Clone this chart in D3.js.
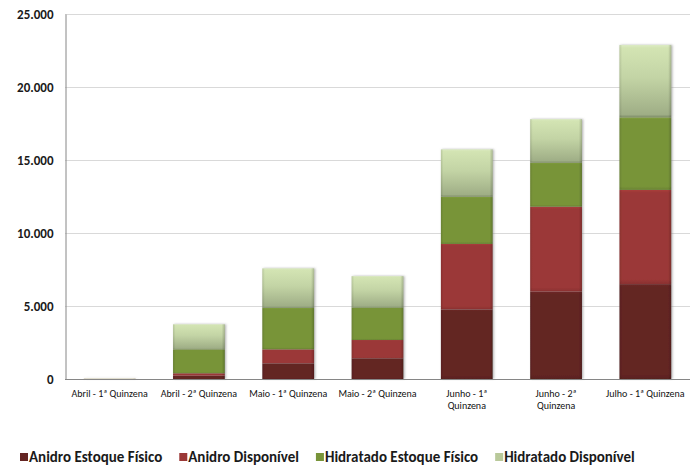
<!DOCTYPE html>
<html>
<head>
<meta charset="utf-8">
<script src="https://cdn.jsdelivr.net/npm/d3@7"></script>
<style>
  html, body { margin: 0; padding: 0; background: #fff; }
  svg { display: block; font-family: Calibri, Carlito, Lato, "Liberation Sans", sans-serif; }
</style>
</head>
<body>
<svg id="chart" width="697" height="468"></svg>
<script>
// Categories (x axis)
const categories = [
  "Abril - 1ª Quinzena",
  "Abril - 2ª Quinzena",
  "Maio - 1ª Quinzena",
  "Maio - 2ª Quinzena",
  "Junho - 1ª\nQuinzena",
  "Junho - 2ª\nQuinzena",
  "Julho - 1ª Quinzena"
];

// Stacked series, bottom to top
const seriesNames = [
  "Anidro Estoque Físico",
  "Anidro Disponível",
  "Hidratado Estoque Físico",
  "Hidratado Disponível"
];
const anidroEstoque     = [5, 230, 1070, 1420, 4770, 5980, 6500];
const anidroDisponivel  = [5, 160, 960, 1250, 4480, 5820, 6450];
const hidratadoEstoque  = [5, 1640, 2850, 2230, 3240, 3020, 4970];
const hidratadoDisponivel = [15, 1720, 2700, 2150, 3240, 2980, 4960];

const yTicks = [0, 5000, 10000, 15000, 20000, 25000];

const colors = ["#642523", "#9b3837", "#789439", "#c9dba8"];

const rows = categories.map((c, i) => ({
  cat: c,
  [seriesNames[0]]: anidroEstoque[i],
  [seriesNames[1]]: anidroDisponivel[i],
  [seriesNames[2]]: hidratadoEstoque[i],
  [seriesNames[3]]: hidratadoDisponivel[i]
}));

const svg = d3.select("#chart");
const plot = { left: 65, right: 690, top: 14, bottom: 379 };

const x = d3.scaleBand()
  .domain(categories)
  .range([plot.left, plot.right])
  .paddingInner(0.42)
  .paddingOuter(0.21);

const y = d3.scaleLinear()
  .domain([0, 25000])
  .range([plot.bottom, plot.top]);

const locale = d3.formatLocale({ decimal: ",", thousands: ".", grouping: [3], currency: ["R$", ""] });
const fmt = locale.format(",d");

// Gradients giving each segment a soft bevel look
const defs = svg.append("defs");
colors.forEach((c, i) => {
  const g = defs.append("linearGradient")
    .attr("id", "grad" + i).attr("x1", 0).attr("y1", 0).attr("x2", 0).attr("y2", 1);
  if (i === 3) {
    g.append("stop").attr("offset", "0%").attr("stop-color", "#dcebc4");
    g.append("stop").attr("offset", "4%").attr("stop-color", "#d3e4b3");
    g.append("stop").attr("offset", "45%").attr("stop-color", "#c3d4a5");
    g.append("stop").attr("offset", "96%").attr("stop-color", "#9fae86");
    g.append("stop").attr("offset", "100%").attr("stop-color", "#7e8c68");
  } else {
    const base = d3.color(c);
    g.append("stop").attr("offset", "0%").attr("stop-color", base.brighter(0.25));
    g.append("stop").attr("offset", "3%").attr("stop-color", base);
    g.append("stop").attr("offset", "95%").attr("stop-color", base);
    g.append("stop").attr("offset", "100%").attr("stop-color", base.darker(0.35));
  }
});
const edge = defs.append("linearGradient").attr("id", "edge")
  .attr("x1", 0).attr("y1", 0).attr("x2", 1).attr("y2", 0);
edge.append("stop").attr("offset", "0%").attr("stop-color", "#000").attr("stop-opacity", 0.12);
edge.append("stop").attr("offset", "5%").attr("stop-color", "#000").attr("stop-opacity", 0);
edge.append("stop").attr("offset", "94%").attr("stop-color", "#000").attr("stop-opacity", 0);
edge.append("stop").attr("offset", "100%").attr("stop-color", "#000").attr("stop-opacity", 0.2);

const shadow = defs.append("filter").attr("id", "shadow")
  .attr("x", "-20%").attr("y", "-5%").attr("width", "140%").attr("height", "110%");
shadow.append("feDropShadow").attr("dx", 1.2).attr("dy", 0).attr("stdDeviation", 0.8)
  .attr("flood-color", "#808080").attr("flood-opacity", 0.6);

// Gridlines
svg.append("g").selectAll("line")
  .data(yTicks.filter(d => d > 0))
  .join("line")
  .attr("x1", plot.left).attr("x2", plot.right)
  .attr("y1", d => y(d) + 0.5).attr("y2", d => y(d) + 0.5)
  .attr("stroke", "#d9d9d9").attr("stroke-width", 1);

// Y axis
const yAxis = svg.append("g")
  .attr("transform", `translate(${plot.left + 0.5},0)`)
  .call(d3.axisLeft(y).tickValues(yTicks).tickFormat(fmt).tickSize(0).tickPadding(12));
yAxis.select(".domain").attr("stroke", "#868686");
yAxis.selectAll("text")
  .attr("font-size", 13).attr("font-weight", "bold").attr("fill", "#1a1a1a")
  .attr("font-family", "Calibri, Carlito, Lato, sans-serif");

// Stacked bars
const stack = d3.stack().keys(seriesNames);
const layers = stack(rows);

const barsG = svg.append("g").attr("filter", "url(#shadow)");
layers.forEach((layer, li) => {
  const g = barsG.append("g");
  g.selectAll("rect.seg")
    .data(layer)
    .join("rect")
    .attr("class", "seg")
    .attr("x", d => x(d.data.cat))
    .attr("width", x.bandwidth())
    .attr("y", d => y(d[1]))
    .attr("height", d => Math.max(0, y(d[0]) - y(d[1])))
    .attr("fill", `url(#grad${li})`);
  g.selectAll("rect.edge")
    .data(layer)
    .join("rect")
    .attr("class", "edge")
    .attr("x", d => x(d.data.cat))
    .attr("width", x.bandwidth())
    .attr("y", d => y(d[1]))
    .attr("height", d => Math.max(0, y(d[0]) - y(d[1])))
    .attr("fill", "url(#edge)");
});

// X axis
const xAxis = svg.append("g")
  .attr("transform", `translate(0,${plot.bottom + 0.5})`)
  .call(d3.axisBottom(x).tickSize(0).tickFormat(""));
xAxis.select(".domain").attr("stroke", "#868686").attr("d", `M${plot.left},0H${plot.right}`);

// X tick labels (with explicit line breaks)
const xl = svg.append("g");
categories.forEach(c => {
  const lines = c.split("\n");
  const t = xl.append("text")
    .attr("x", x(c) + x.bandwidth() / 2)
    .attr("y", plot.bottom + 18)
    .attr("text-anchor", "middle")
    .attr("font-size", 10)
    .attr("fill", "#111");
  lines.forEach((ln, k) => {
    t.append("tspan")
      .attr("x", x(c) + x.bandwidth() / 2)
      .attr("dy", k === 0 ? 0 : 12)
      .text(ln);
  });
});

// Legend
const legend = svg.append("g").attr("transform", "translate(20,457)");
let lx = 0;
seriesNames.forEach((name, i) => {
  const item = legend.append("g").attr("transform", `translate(${lx},0)`);
  item.append("rect")
    .attr("x", 0).attr("y", -4).attr("width", 8).attr("height", 8)
    .attr("fill", i === 3 ? "#b9c99a" : colors[i]);
  const t = item.append("text")
    .attr("x", 9).attr("y", 0).attr("dy", "0.35em")
    .attr("font-size", 15).attr("font-weight", "bold").attr("fill", "#1a1a1a")
    .text(name);
  lx += 9 + t.node().getComputedTextLength() + 17;
});
</script>
</body>
</html>
